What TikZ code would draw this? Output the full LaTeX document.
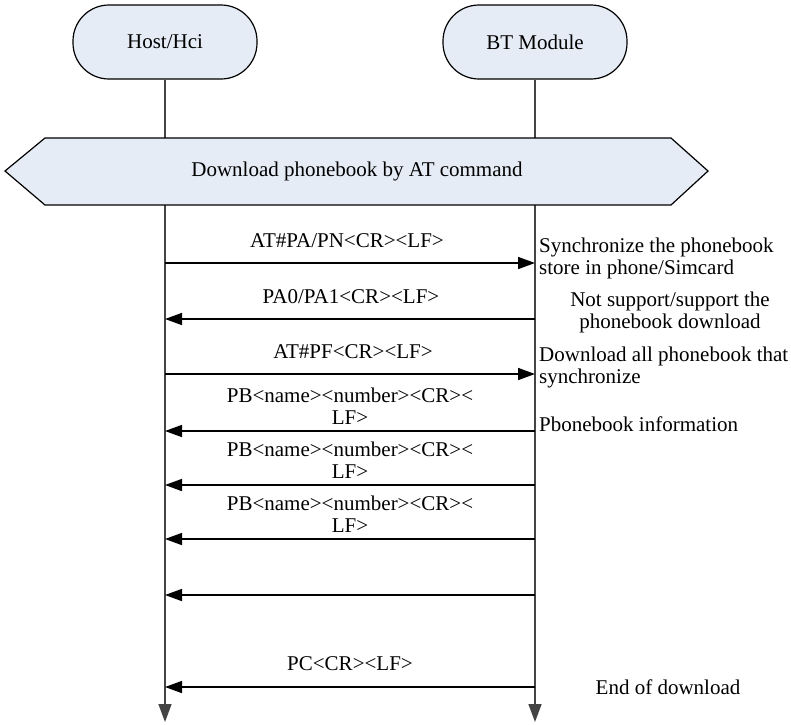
\documentclass[tikz,border=0pt]{standalone}
\usepackage{fontspec}
\setmainfont{Liberation Serif}
\newfontfamily\timesfam{Liberation Serif}
\usetikzlibrary{arrows.meta}
\definecolor{boxfill}{HTML}{E6ECF6}
\definecolor{lifeclr}{HTML}{444444}
\begin{document}
\begin{tikzpicture}[x=1pt,y=-1pt,
  font=\timesfam\fontsize{21}{22}\selectfont,
  actor/.style={draw=black, line width=1.2pt, fill=boxfill, rounded corners=36pt,
    minimum width=184pt, minimum height=74pt, inner sep=0pt},
  life/.style={draw=lifeclr, line width=1.5pt, -{Triangle[length=18pt,width=13pt]}},
  msg/.style={draw=black, line width=1.6pt, -{Triangle[length=17pt,width=12pt]}},
  lbl/.style={inner sep=0pt, align=center},
  note/.style={inner sep=0pt, align=left, anchor=west},
  cnote/.style={inner sep=0pt, align=center}]
\useasboundingbox (0,0) rectangle (791,724);
% actors
\node[actor] (host) at (165,42) {Host/Hci};
\node[actor] (bt) at (535,42) {BT Module};
\coordinate (hend) at (165,722);
\coordinate (bend) at (535,722);
\draw[life] (host.south) -- (hend);
\draw[life] (bt.south) -- (bend);
% band
\draw[line width=1.2pt, fill=boxfill] (5,171) -- (45,138) -- (671,138) -- (708,171) -- (671,205) -- (45,205) -- cycle;
\node[lbl] (band) at (357,171) {Download phonebook by AT command};
% message anchor points
\foreach \n/\y in {1/263,2/319,3/374,4/431,5/485,6/539,7/595,8/687}{
  \coordinate (h\n) at (165,\y);
  \coordinate (b\n) at (535,\y);
}
\draw[msg] (h1) -- (b1);
\draw[msg] (b2) -- (h2);
\draw[msg] (h3) -- (b3);
\draw[msg] (b4) -- (h4);
\draw[msg] (b5) -- (h5);
\draw[msg] (b6) -- (h6);
\draw[msg] (b7) -- (h7);
\draw[msg] (b8) -- (h8);
% message labels
\node[lbl] (m1) at (347,241) {AT\#PA/PN<CR><LF>};
\node[lbl] (m2) at (351,297) {PA0/PA1<CR><LF>};
\node[lbl] (m3) at (353,352) {AT\#PF<CR><LF>};
\node[lbl, anchor=south] (m4) at (350,425) {PB<name><number><CR><\\LF>};
\node[lbl, anchor=south] (m5) at (350,479) {PB<name><number><CR><\\LF>};
\node[lbl, anchor=south] (m6) at (350,533) {PB<name><number><CR><\\LF>};
\node[lbl] (m8) at (350,664) {PC<CR><LF>};
% notes
\node[note] (n1) at (539,258) {Synchronize the phonebook\\store in phone/Simcard};
\node[cnote] (n2) at (670,312) {Not support/support the\\phonebook download};
\node[note] (n3) at (539,367) {Download all phonebook that\\synchronize};
\node[note] (n4) at (539,424) {Pbonebook information};
\node[cnote] (n8) at (668,687) {End of download};
\end{tikzpicture}
\end{document}
